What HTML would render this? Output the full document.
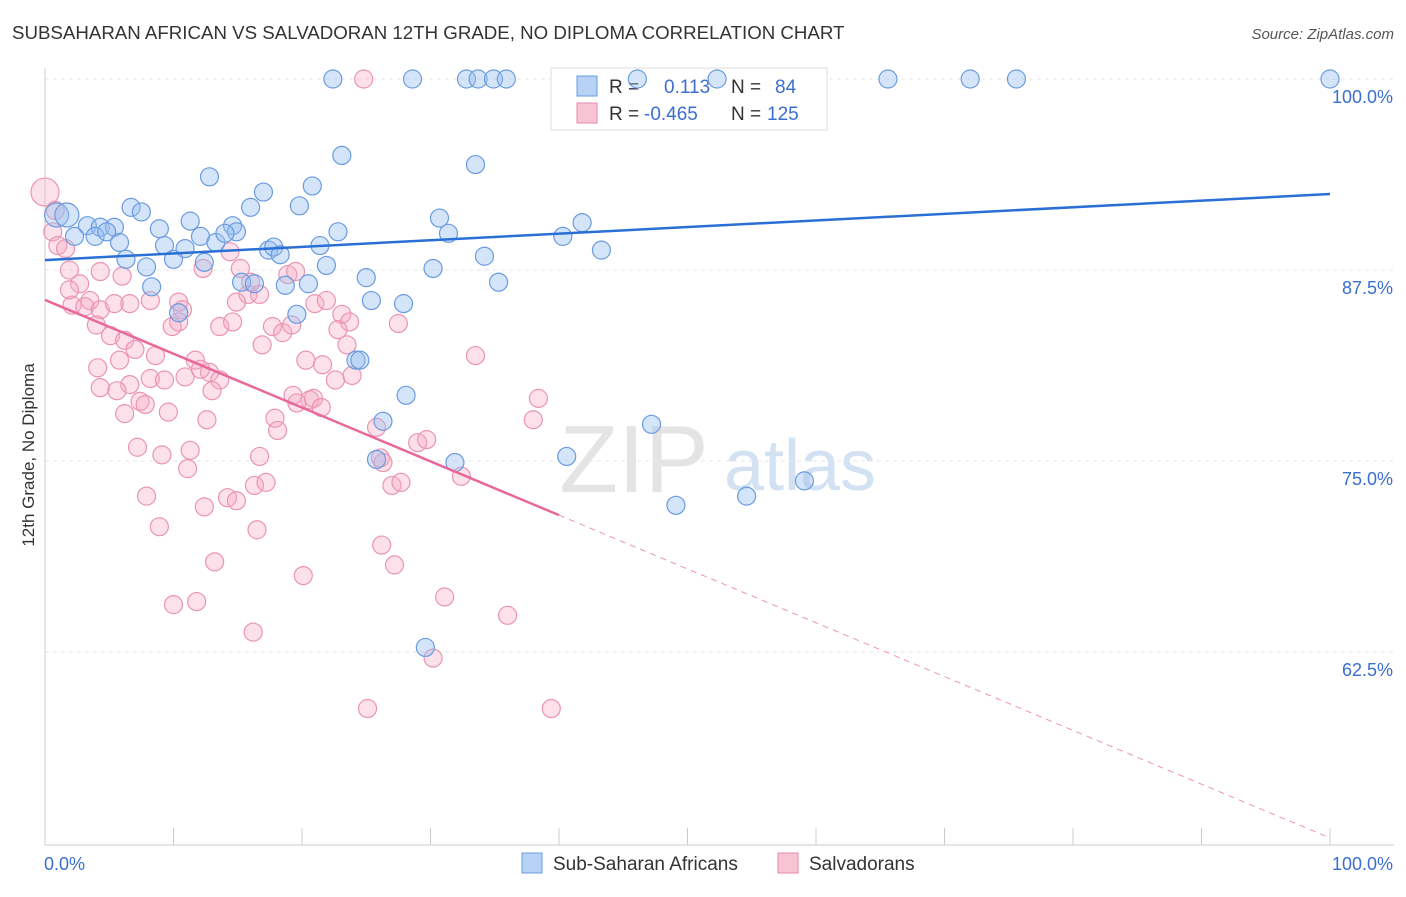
<!DOCTYPE html>
<html><head><meta charset="utf-8"><style>
body{margin:0;background:#fff;font-family:"Liberation Sans",sans-serif;}
svg text{font-family:"Liberation Sans",sans-serif;}
</style></head><body>
<svg width="1406" height="892" xmlns="http://www.w3.org/2000/svg" id="chart">
<text x="12" y="39" font-size="18.7" fill="#333">SUBSAHARAN AFRICAN VS SALVADORAN 12TH GRADE, NO DIPLOMA CORRELATION CHART</text>
<text x="1394" y="39" font-size="15" fill="#555" text-anchor="end" font-style="italic">Source: ZipAtlas.com</text>
<text transform="translate(34,455) rotate(-90)" font-size="17" fill="#333" text-anchor="middle">12th Grade, No Diploma</text>
<g>
<text x="634" y="492" font-size="96" fill="#e4e4e4" text-anchor="middle" font-family="Liberation Serif,serif">ZIP</text>
<text x="800" y="490" font-size="72" fill="#d3e2f3" text-anchor="middle">atlas</text>
</g>
<g id="grid"></g>
<g id="axes"></g>
<g>
<rect x="551" y="68" width="276" height="62" fill="#fff" stroke="#ddd"/>
<rect x="577" y="76" width="20" height="20" fill="#b8d2f5" stroke="#6a9be0"/>
<rect x="577" y="103" width="20" height="20" fill="#f8c4d4" stroke="#e88aa8"/>
<text x="609" y="93" font-size="19" fill="#333">R = </text><text x="664" y="93" font-size="19" fill="#3a6fd0">0.113</text>
<text x="731" y="93" font-size="19" fill="#333">N = </text><text x="775" y="93" font-size="19" fill="#3a6fd0">84</text>
<text x="609" y="120" font-size="19" fill="#333">R = </text><text x="644" y="120" font-size="19" fill="#3a6fd0">-0.465</text>
<text x="731" y="120" font-size="19" fill="#333">N = </text><text x="767" y="120" font-size="19" fill="#3a6fd0">125</text>
</g>
<g id="marks"></g>
<g>
<rect x="522" y="853" width="20" height="20" fill="#b8d2f5" stroke="#6a9be0"/>
<text x="553" y="870" font-size="19" fill="#333">Sub-Saharan Africans</text>
<rect x="778" y="853" width="20" height="20" fill="#f8c4d4" stroke="#e88aa8"/>
<text x="809" y="870" font-size="19" fill="#333">Salvadorans</text>
</g>
</svg>
<script>
const yTicks=[100,87.5,75,62.5];
const yTickLabels=["100.0%","87.5%","75.0%","62.5%"];
const xTicks=[0,10,20,30,40,50,60,70,80,90,100];
const blueX=[22.4,28.6,32.8,33.7,34.9,35.9,46.1,52.3,65.6,72.0,75.6,100,23.1,33.5,12.8,17.0,20.8,16.0,19.8,6.7,7.5,11.3,14.6,30.7,41.8,0.9,1.7,3.3,4.3,5.4,8.9,2.3,3.9,4.8,5.8,9.3,10.9,12.1,13.3,14.9,14.0,17.4,17.8,18.3,21.4,22.8,31.4,40.3,43.3,34.2,6.3,7.9,10.0,12.4,21.9,25.0,30.2,35.3,15.3,16.3,18.7,20.5,25.4,27.9,8.3,10.4,19.6,24.2,24.5,28.1,26.3,47.2,25.8,31.9,40.6,59.1,54.6,49.1,29.6];
const blueY=[100,100,100,100,100,100,100,100,100,100,100,100,95.0,94.4,93.6,92.6,93.0,91.6,91.7,91.6,91.3,90.7,90.4,90.9,90.6,91.1,91.1,90.4,90.3,90.3,90.2,89.7,89.7,90.0,89.3,89.1,88.9,89.7,89.3,90.0,89.9,88.8,89.0,88.5,89.1,90.0,89.9,89.7,88.8,88.4,88.2,87.7,88.2,88.0,87.8,87.0,87.6,86.7,86.7,86.6,86.5,86.6,85.5,85.3,86.4,84.7,84.6,81.6,81.6,79.3,77.6,77.4,75.1,74.9,75.3,73.7,72.7,72.1,62.8];
const pinkX=[0,0.8,0.6,1.0,1.6,1.9,2.7,3.5,2.1,3.1,4.3,5.4,6.6,8.2,10.4,10.7,4.0,5.1,6.2,4.3,4.1,5.8,7.0,8.6,6.6,8.2,9.3,7.4,6.2,9.6,7.8,10.4,9.9,11.7,12.8,13.6,10.9,12.1,13.0,12.6,6.0,4.3,12.3,15.2,15.8,14.9,16.7,13.6,14.6,16.0,16.9,17.7,18.5,19.2,18.9,19.5,21.0,21.9,23.1,23.7,22.8,23.5,22.6,23.9,20.3,21.6,19.3,20.6,19.6,20.9,21.5,17.9,18.1,7.2,9.1,11.3,11.1,16.7,7.9,12.4,14.2,14.9,16.3,17.2,8.9,16.5,13.2,10.0,11.8,16.2,20.1,26.2,27.2,25.8,26.1,26.3,27.0,27.7,29.0,29.7,32.4,33.5,27.5,38.0,38.4,31.1,36.0,30.2,25.1,39.4,24.8,14.4,5.6,1.9];
const pinkY=[92.6,91.4,90.0,89.1,88.9,87.5,86.6,85.5,85.2,85.1,84.9,85.3,85.3,85.5,85.4,84.9,83.9,83.2,82.9,79.8,81.1,81.6,82.3,81.9,80.0,80.4,80.3,78.9,78.1,78.2,78.7,84.1,83.8,81.6,80.8,80.3,80.5,81.0,79.6,77.7,87.1,87.4,87.6,87.6,85.9,85.4,85.9,83.8,84.1,86.7,82.6,83.8,83.4,83.9,87.2,87.4,85.3,85.5,84.6,84.1,83.6,82.6,80.3,80.6,81.6,81.3,79.3,79.0,78.8,79.1,78.5,77.8,77.0,75.9,75.4,75.7,74.5,75.3,72.7,72.0,72.6,72.4,73.4,73.6,70.7,70.5,68.4,65.6,65.8,63.8,67.5,69.5,68.2,77.2,75.2,74.9,73.4,73.6,76.2,76.4,74.0,81.9,84.0,77.7,79.1,66.1,64.9,62.1,58.8,58.8,100,88.7,79.6,86.2];
const blueTrend=[88.15,92.47];
const pinkTrend=[85.54,50.33];
const pinkSolidEnd=40;

const NS="http://www.w3.org/2000/svg";
const X0=45,X1=1330,YTOP=79,PPY=15.28;
const xs=v=>X0+(X1-X0)*v/100;
const ys=v=>YTOP+(100-v)*PPY;
function mk(tag,attrs,parent){const e=document.createElementNS(NS,tag);for(const k in attrs)e.setAttribute(k,attrs[k]);document.getElementById(parent).appendChild(e);return e;}
yTicks.forEach((t,i)=>{
 const g=mk('line',{x1:X0,x2:1394,y1:ys(t),y2:ys(t),stroke:'#e6e6e6','stroke-dasharray':'4,4'},'grid');
 
 
 const l=mk('text',{x:1393,y:ys(t)+24,'font-size':18,fill:'#3a6fd0','text-anchor':'end'},'grid');
 l.textContent=yTickLabels[i];
 
 
});
const ax=mk('line',{x1:X0,x2:X0,y1:68,y2:845,stroke:'#ccc'},'axes');


const bx=mk('line',{x1:X0,x2:1394,y1:845,y2:845,stroke:'#ccc'},'axes');


xTicks.forEach(t=>{
 const k=mk('line',{x1:xs(t),x2:xs(t),y1:828,y2:845,stroke:'#ccc'},'axes');
 
 
});
const xl0=mk('text',{x:44,y:870,'font-size':18,fill:'#3a6fd0'},'axes');xl0.textContent='0.0%';


const xl1=mk('text',{x:1393,y:870,'font-size':18,fill:'#3a6fd0','text-anchor':'end'},'axes');xl1.textContent='100.0%';



pinkX.forEach((x,i)=>{
 const c=mk('circle',{cx:xs(x),cy:ys(pinkY[i]),r:i===0?14:9,fill:'rgba(245,170,195,0.35)',stroke:'#eb94b2','stroke-width':1.2},'marks');
 
 
});
blueX.forEach((x,i)=>{
 const big=(x<2&&blueY[i]>91);
 const c=mk('circle',{cx:xs(x),cy:ys(blueY[i]),r:big?12:9,fill:'rgba(150,190,240,0.4)',stroke:'#6a9be0','stroke-width':1.2},'marks');
 
 
});
const bt=mk('line',{x1:xs(0),y1:ys(blueTrend[0]),x2:xs(100),y2:ys(blueTrend[1]),stroke:'#2a6fd6','stroke-width':2.5},'marks');


const py=x=>pinkTrend[0]+(pinkTrend[1]-pinkTrend[0])*x/100;
const pt=mk('line',{x1:xs(0),y1:ys(py(0)),x2:xs(pinkSolidEnd),y2:ys(py(pinkSolidEnd)),stroke:'#e8689a','stroke-width':2.5},'marks');


const pd=mk('line',{x1:xs(pinkSolidEnd),y1:ys(py(pinkSolidEnd)),x2:xs(100),y2:ys(py(100)),stroke:'#eb94b2','stroke-width':1,'stroke-dasharray':'6,5'},'marks');


</script>
</body></html>
